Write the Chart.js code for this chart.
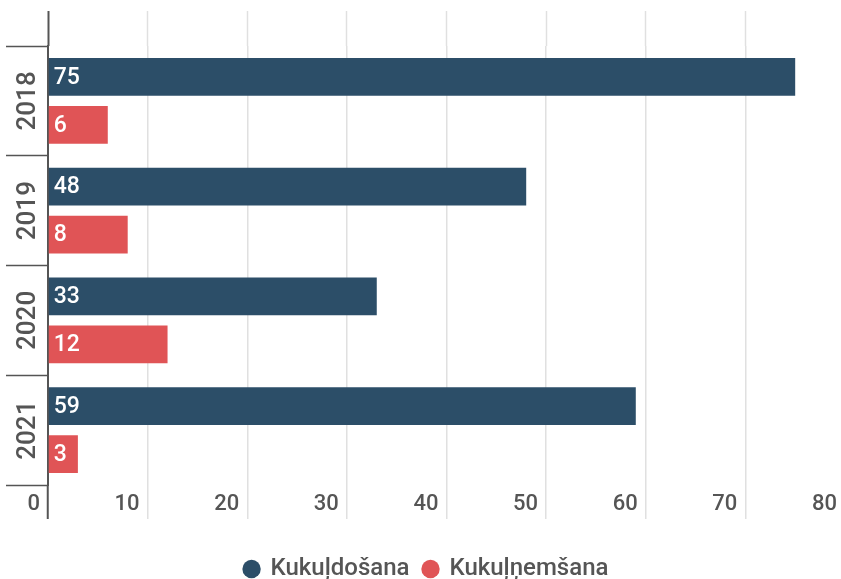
<!DOCTYPE html>
<html>
<head>
<meta charset="utf-8">
<script src="https://cdn.jsdelivr.net/npm/chart.js@4"></script>
<style>
  html, body { margin: 0; padding: 0; overflow: hidden; background: #fff; }
  #wrap { position: relative; width: 850px; height: 591px; }
</style>
</head>
<body>
<div id="wrap"><canvas id="chart"></canvas></div>
<script>
const years = ['2018', '2019', '2020', '2021'];
const bribeGiving = [75, 48, 33, 59];
const bribeTaking = [6, 8, 12, 3];
const seriesNames = ['Kukuļdošana', 'Kukuļņemšana'];
const xMin = 0;
const xMax = 80;
const xStep = 10;

const navy = '#2c4e68';
const coral = '#e05456';
const axisGrey = '#555';
const gridGrey = '#e0e0e0';

// value written inside the start of every bar
const barValues = {
  id: 'barValues',
  afterDatasetsDraw(chart) {
    const ctx = chart.ctx;
    ctx.save();
    ctx.font = '500 23px Roboto';
    ctx.fillStyle = '#fff';
    ctx.textAlign = 'left';
    ctx.textBaseline = 'middle';
    chart.data.datasets.forEach((ds, i) => {
      chart.getDatasetMeta(i).data.forEach((bar, j) => {
        const p = bar.getProps(['y', 'base'], true);
        ctx.fillText(ds.data[j], p.base + 5, p.y + 1);
      });
    });
    ctx.restore();
  }
};

const zeroDark = c => (c.tick && c.tick.value === 0 ? axisGrey : gridGrey);
const zeroWide = c => (c.tick && c.tick.value === 0 ? 2 : 1.5);

new Chart(document.getElementById('chart'), {
  type: 'bar',
  data: {
    labels: years,
    datasets: [
      { label: seriesNames[0], data: bribeGiving, backgroundColor: navy },
      { label: seriesNames[1], data: bribeTaking, backgroundColor: coral }
    ]
  },
  options: {
    indexAxis: 'y',
    responsive: true,
    maintainAspectRatio: false,
    animation: false,
    datasets: { bar: { categoryPercentage: 0.873, barPercentage: 0.79 } },
    layout: { padding: { top: 11, right: 5, bottom: 0, left: 8 } },
    scales: {
      x: {
        position: 'bottom',
        min: xMin, max: xMax,
        ticks: {
          stepSize: xStep,
          align: 'end',
          labelOffset: -8,
          padding: -28,
          color: axisGrey,
          font: { family: 'Roboto', size: 22, weight: '500' }
        },
        grid: { color: gridGrey, lineWidth: 1.5, tickLength: 34, tickColor: zeroDark, tickWidth: zeroWide },
        border: { display: false },
        afterFit: s => { s.height = 58; }
      },
      x2: {
        type: 'linear',
        position: 'top',
        min: xMin, max: xMax,
        ticks: { stepSize: xStep, display: false },
        grid: { drawOnChartArea: false, tickLength: 35, tickColor: zeroDark, tickWidth: zeroWide },
        border: { display: false },
        afterFit: s => { s.height = 35; }
      },
      y: {
        type: 'category',
        offset: true,
        ticks: {
          minRotation: 90,
          maxRotation: 90,
          crossAlign: 'center',
          padding: -52,
          color: axisGrey,
          font: { family: 'Roboto', size: 26, weight: '500' }
        },
        grid: { offset: true, drawOnChartArea: false, tickLength: 42, tickColor: axisGrey, tickWidth: 1.5 },
        border: { color: axisGrey, width: 2 },
        afterFit: s => { s.width = 40; }
      }
    },
    plugins: {
      legend: {
        position: 'bottom',
        labels: {
          usePointStyle: true,
          pointStyle: 'circle',
          boxWidth: 14,
          boxHeight: 13,
          padding: 14,
          color: axisGrey,
          font: { family: 'Roboto', size: 24, weight: '500' }
        }
      },
      tooltip: { enabled: false }
    }
  },
  plugins: [barValues]
});
</script>
</body>
</html>
